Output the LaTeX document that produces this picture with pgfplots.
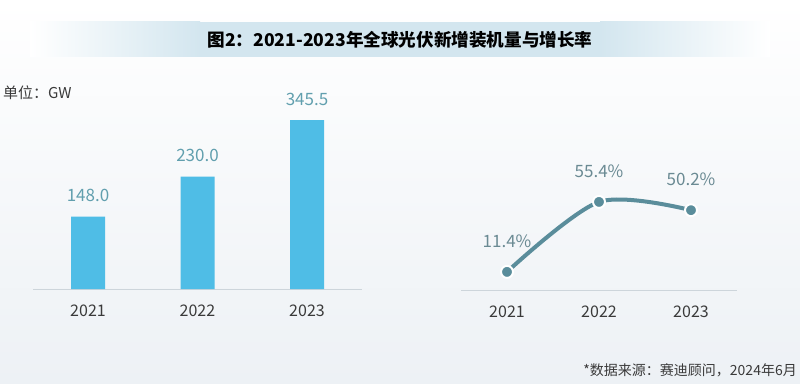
\documentclass[border=0pt]{standalone}
\usepackage{pgfplots}
\pgfplotsset{compat=1.18}
\usepackage{fontspec}
\setmainfont{Noto Sans CJK SC}
\definecolor{bgbot}{HTML}{EDF1F5}
\definecolor{band}{HTML}{D3E6EF}
\definecolor{barblue}{HTML}{4FBDE6}
\definecolor{barlabel}{HTML}{619FAE}
\definecolor{linecol}{HTML}{5A8D9B}
\definecolor{linelabel}{HTML}{6A8A93}
\definecolor{tickcol}{HTML}{3A3A3A}
\definecolor{axisgray}{HTML}{CDD5DB}
\begin{document}
\begin{tikzpicture}
\useasboundingbox (0pt,0pt) rectangle (800pt,383pt);
\fill[top color=white,bottom color=bgbot] (0pt,0pt) rectangle (800pt,383pt);
% title band
\shade[left color=white, right color=band] (30pt,326pt) rectangle (200pt,361pt);
\fill[band] (199.5pt,326pt) rectangle (600.5pt,361pt);
\shade[left color=band, right color=white] (600pt,326pt) rectangle (770pt,361pt);
\node[font=\fontsize{17.6}{17.6}\selectfont\bfseries, text=black] at (400pt,343pt) {图2：2021-2023年全球光伏新增装机量与增长率};
\node[anchor=west, font=\fontsize{15}{15}\selectfont, text=tickcol, inner sep=0pt] at (3pt,290pt) {单位：GW};
\node[anchor=east, font=\fontsize{14}{14}\selectfont, text=tickcol, inner sep=0pt] at (797pt,13pt) {*数据来源：赛迪顾问，2024年6月};

\begin{axis}[at={(33.25pt,94pt)}, anchor=south west, scale only axis,
  width=328.5pt, height=195.4pt, xmin=-0.5, xmax=2.5, ymin=0, ymax=400,
  axis x line=bottom, axis y line=none, clip=false,
  x axis line style={draw=axisgray, line width=1pt, -},
  xtick={0,1,2}, xticklabels={2021,2022,2023}, major tick length=0pt,
  xticklabel style={anchor=north, inner sep=0pt, yshift=-16pt, text=tickcol, font=\fontsize{16}{16}\selectfont},
  ytick=\empty]
\addplot[ybar, bar width=34pt, fill=barblue, draw=none,
  nodes near coords, point meta=explicit symbolic,
  nodes near coords style={anchor=center, yshift=21pt, text=barlabel, font=\fontsize{17}{17}\selectfont}]
  coordinates {(0,148.0) [148.0] (1,230.0) [230.0] (2,345.5) [345.5]};
\end{axis}

\begin{axis}[at={(461pt,93pt)}, anchor=south west, scale only axis,
  width=276pt, height=127.2pt, xmin=-0.5, xmax=2.5, ymin=0, ymax=80,
  axis x line=bottom, axis y line=none, clip=false,
  x axis line style={draw=axisgray, line width=1pt, -},
  xtick={0,1,2}, xticklabels={2021,2022,2023}, major tick length=0pt,
  xticklabel style={anchor=north, inner sep=0pt, yshift=-16pt, text=tickcol, font=\fontsize{16}{16}\selectfont},
  ytick=\empty]
\addplot[smooth, color=linecol, line width=4pt,
  mark=*, mark size=6pt, mark options={fill=linecol, draw=white, line width=2pt},
  nodes near coords, point meta=explicit symbolic,
  nodes near coords style={anchor=center, yshift=31pt, text=linelabel, font=\fontsize{17}{17}\selectfont}]
  coordinates {(0,11.4) [11.4\%] (1,55.4) [55.4\%] (2,50.2) [50.2\%]};
\end{axis}
\end{tikzpicture}
\end{document}
